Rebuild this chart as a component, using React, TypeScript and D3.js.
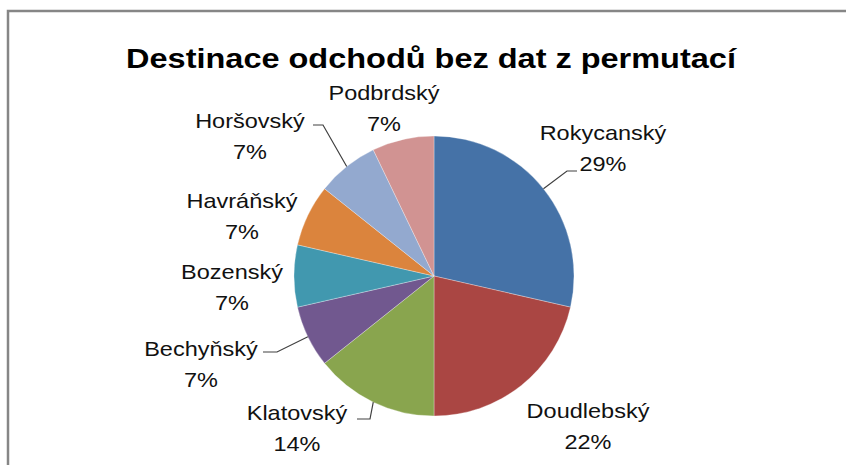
import React from 'react';
import * as d3 from 'd3';

const categories = ['Rokycanský', 'Doudlebský', 'Klatovský', 'Bechyňský', 'Bozenský', 'Havráňský', 'Horšovský', 'Podbrdský'];
const counts = [4, 3, 2, 1, 1, 1, 1, 1];
// percentages as printed on the chart
const percentLabels = [29, 22, 14, 7, 7, 7, 7, 7];
const colors = ['#4572A7', '#AA4643', '#89A54E', '#71588F', '#4198AF', '#DB843D', '#93A9CF', '#D19392'];

// label centre relative to pie centre, and optional leader elbow (also relative)
const labelOffsets = [[169, -128], [154, 150], [-137, 152], [-233, 88], [-202, 11], [-192, -60], [-184, -140], [-50, -168]];
const leaders = {
  0: { elbow: [133, -105], end: [143, -105] },
  2: { elbow: [-64, 143], end: [-77, 143] },
  3: { elbow: [-157, 76], end: [-171, 76] },
  6: { elbow: [-111, -151], end: [-121, -151] },
};

const width = 846;
const height = 465;
const cx = 434;
const cy = 276;
const radius = 140;
const font = '"Liberation Sans", Arial, sans-serif';

const App = () => {
  const pie = d3.pie<number>().sort(null).value(d => d);
  const slices = pie(counts);
  const arc = d3.arc<d3.PieArcDatum<number>>().innerRadius(0).outerRadius(radius);
  const edge = d3.arc<d3.PieArcDatum<number>>().innerRadius(radius).outerRadius(radius);

  return (
    <svg width={width} height={height} style={{ position: 'fixed', left: 0, top: 0, background: '#fff' }}>
      <rect x={0} y={0} width={width} height={height} fill="#fff" />
      <path d={`M8,${height} V11 H${width}`} fill="none" stroke="#868686" strokeWidth={2.5} />
      <text x={0} y={0} textAnchor="middle" fontFamily={font} fontWeight="bold" fontSize={28}
        transform="translate(431,68) scale(1.16,1)">
        Destinace odchodů bez dat z permutací
      </text>
      <g transform={`translate(${cx},${cy})`}>
        {slices.map((s, i) => (
          <path key={i} d={arc(s) || ''} fill={colors[i]} stroke="#fff" strokeWidth={0.5} strokeOpacity={0.6} />
        ))}
        {Object.entries(leaders).map(([k, l]) => {
          const i = +k;
          const [px, py] = edge.centroid(slices[i]);
          return (
            <polyline key={k} points={`${px},${py} ${l.elbow[0]},${l.elbow[1]} ${l.end[0]},${l.end[1]}`}
              fill="none" stroke="#404040" strokeWidth={1.2} />
          );
        })}
        {slices.map((s, i) => {
          const [lx, ly] = labelOffsets[i];
          return (
            <g key={i} transform={`translate(${lx},${ly}) scale(1.12,1)`} fontFamily={font} fontSize={21} fill="#111">
              <text x={0} y={-15.5} textAnchor="middle" dominantBaseline="central">{categories[i]}</text>
              <text x={0} y={15.5} textAnchor="middle" dominantBaseline="central">{percentLabels[i]}%</text>
            </g>
          );
        })}
      </g>
    </svg>
  );
};

export default App;
